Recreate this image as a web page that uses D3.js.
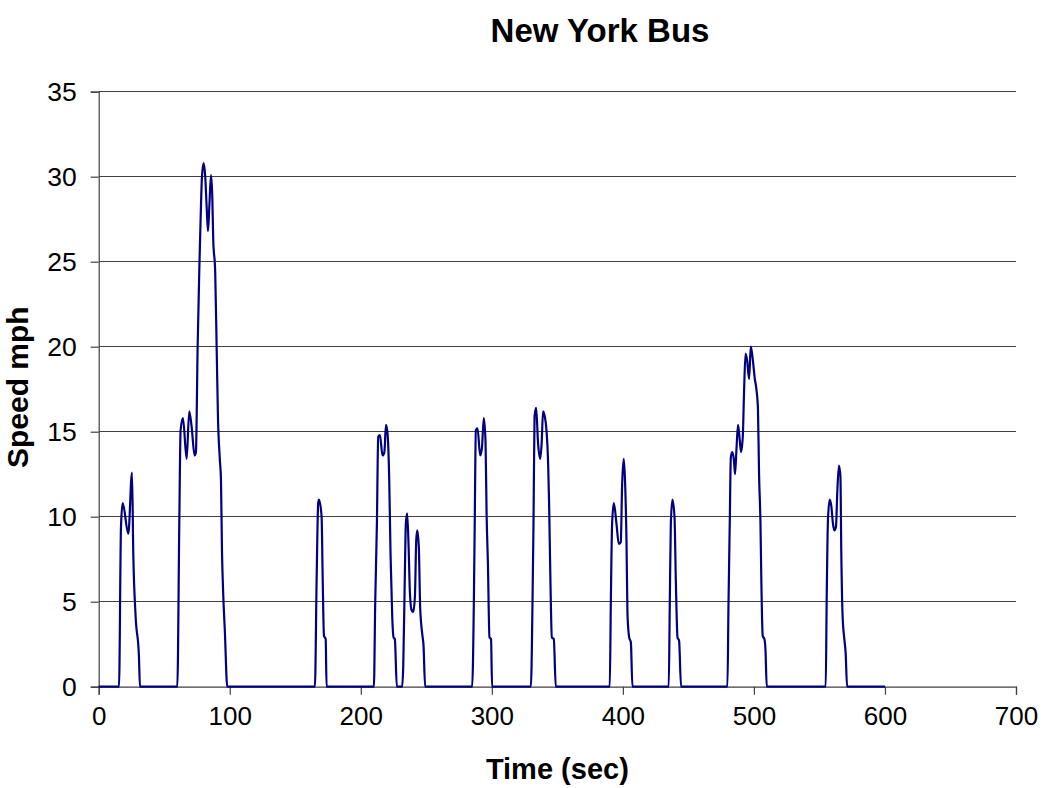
<!DOCTYPE html>
<html>
<head>
<meta charset="utf-8">
<script src="https://cdn.jsdelivr.net/npm/d3@7"></script>
<style>
  html, body { margin: 0; padding: 0; background: #fff; }
  svg { display: block; font-family: "Liberation Sans", Arial, sans-serif; }
</style>
</head>
<body>
<svg id="chart" width="1043" height="788"></svg>
<script>
// ---- Data ----
const chartTitle = "New York Bus";
const xAxisTitle = "Time (sec)";
const yAxisTitle = "Speed mph";

const timeSec = [
  0, 15.5, 17.0, 18.3, 22.6, 25.4, 26.4, 28.2, 30.7, 31.5,
  60, 61.5, 62.5, 64.3, 67.1, 69.1, 70.9, 73.2, 74.2, 75.5, 76.7, 77.8, 78.8, 80.1, 81.3,
  82.4, 83.4, 84.4, 85.7, 86.7, 87.4, 88.9, 90, 91, 92.5, 93.3, 94.1, 95, 96.3, 98.1,
  165, 166.3, 167.5, 168.1, 170.1, 170.9, 171.9, 173.2, 173.9,
  210, 211, 212.3, 213.3, 214.6, 216.6, 218, 219.2, 220.4, 221.7, 222.7, 224, 225, 226, 227.5,
  231.6, 232.4, 233.6, 234.4, 235.4, 236.5, 237.5, 238.8, 240, 241.3, 242.3, 243.1, 244.3,
  245.3, 246.9, 247.9, 249.1,
  285, 286.3, 287, 287.8, 289.1, 291.1, 292.4, 293.9, 295.2, 296, 297, 298.2, 299.4, 300.2,
  329.8, 331.1, 331.8, 332.6, 333.8, 335.3, 336.9, 338, 339.1, 340.4, 341.7, 342.9, 343.7,
  344.7, 345.8, 347.3, 348.8,
  390, 390.8, 391.8, 393.1, 395.1, 396.9, 398.4, 399.4, 400.7, 401.7, 402.8, 403.5, 404.8, 406.1, 407.3,
  435, 435.8, 436.6, 437.8, 439.4, 440.4, 441.7, 442.9, 444.4,
  479.8, 480.6, 481.6, 482.4, 483.4, 484.8, 485.6, 486.7, 487.9, 489.2, 490.2, 491.5, 492.5,
  493.6, 494.8, 496.3, 497.6, 498.9, 500.7, 501.9, 503.1, 503.9, 505, 505.7, 506.7, 508, 508.8, 509.8,
  554.8, 555.5, 556.5, 557.8, 559.1, 560.3, 561.4, 562.6, 563.7, 564.9, 566, 566.7, 567.7, 569, 570, 571.1,
  600
];
const speedMph = [
  0, 0, 9.4, 10.8, 9.0, 12.6, 7.8, 4.1, 1.8, 0,
  0, 9.6, 15.1, 15.8, 13.4, 16.2, 15.3, 13.6, 13.8, 20, 24.3, 27.6, 30, 30.8, 30.0,
  28.2, 26.8, 28.2, 30.1, 28.8, 26.3, 24.4, 20, 15.9, 13.3, 12.2, 7.9, 5.5, 3.2, 0,
  0, 6.3, 10.8, 11.0, 10.0, 6.5, 3.0, 2.8, 0,
  0, 4.9, 9.6, 14.7, 14.8, 13.6, 13.8, 15.4, 14.9, 12.2, 7.8, 4.1, 2.9, 2.8, 0,
  0, 1.2, 6.5, 9.6, 10.2, 8.2, 5.5, 4.5, 4.4, 5.3, 8.6, 9.2, 8.2,
  4.7, 3.1, 2.4, 0,
  0, 5.1, 10, 15.1, 15.2, 13.6, 14.0, 15.8, 14.4, 10.2, 7.3, 2.9, 2.8, 0,
  0, 5.3, 9.6, 15.9, 16.4, 14.3, 13.4, 14.3, 16.2, 15.9, 15.1, 13.3, 10.8,
  6.3, 2.9, 2.8, 0,
  0, 4.9, 9.6, 10.8, 9.6, 8.4, 8.5, 11.8, 13.4, 12.0, 8.4, 4.3, 2.9, 2.6, 0,
  0, 4.9, 9.6, 11.0, 10.0, 6.3, 2.9, 2.7, 0,
  0, 4.9, 9.8, 13.5, 13.8, 13.3, 12.5, 14.0, 15.4, 14.5, 13.8, 14.7, 17.4,
  19.6, 19.2, 18.1, 20.0, 19.4, 18.1, 17.5, 16.3, 12.6, 9.6, 6.1, 3.0, 2.8, 2.2, 0,
  0, 4.9, 9.8, 11.0, 10.6, 9.6, 9.2, 9.4, 11.6, 13.0, 12.4, 7.8, 4.1, 2.8, 2.0, 0,
  0
];
const xTicks = [0, 100, 200, 300, 400, 500, 600, 700];
const yTicks = [0, 5, 10, 15, 20, 25, 30, 35];

// ---- Layout ----
const plot = { left: 98.7, right: 1016, top: 91.7, bottom: 686.7 };
const svg = d3.select("#chart");
svg.append("rect").attr("width", 1043).attr("height", 788).attr("fill", "#fff");

const x = d3.scaleLinear().domain([0, 700]).range([plot.left, plot.right]);
const y = d3.scaleLinear().domain([0, 35]).range([plot.bottom, plot.top]);

// gridlines
svg.append("g")
  .selectAll("line")
  .data(yTicks.filter(d => d > 0))
  .join("line")
  .attr("x1", plot.left).attr("x2", plot.right)
  .attr("y1", d => y(d)).attr("y2", d => y(d))
  .attr("stroke", "#404040").attr("stroke-width", 1.2)
  .attr("shape-rendering", "crispEdges");

// y axis
const yAxis = d3.axisLeft(y).tickValues(yTicks).tickSize(8).tickPadding(14).tickFormat(d3.format("d"));
const gy = svg.append("g").attr("transform", `translate(${plot.left},0)`).call(yAxis);
gy.select(".domain").attr("stroke", "#404040").attr("stroke-width", 1.2);
gy.selectAll(".tick line").attr("stroke", "#404040").attr("stroke-width", 1.2);
gy.selectAll(".tick text").attr("font-size", 26.5).attr("fill", "#000")
  .attr("font-family", "Liberation Sans, Arial, sans-serif");

// x axis
const xAxis = d3.axisBottom(x).tickValues(xTicks).tickSize(8).tickPadding(12).tickFormat(d3.format("d"));
const gx = svg.append("g").attr("transform", `translate(0,${plot.bottom})`).call(xAxis);
gx.select(".domain").attr("stroke", "#404040").attr("stroke-width", 1.2);
gx.selectAll(".tick line").attr("stroke", "#404040").attr("stroke-width", 1.2);
gx.selectAll(".tick text").attr("font-size", 26).attr("fill", "#000")
  .attr("font-family", "Liberation Sans, Arial, sans-serif");

// data line
const pts = timeSec.map((t, i) => [t, speedMph[i]]);
const line = d3.line().x(d => x(d[0])).y(d => y(d[1])).curve(d3.curveMonotoneX);
svg.append("path")
  .datum(pts)
  .attr("d", line)
  .attr("fill", "none")
  .attr("stroke", "#000080")
  .attr("stroke-width", 2.2)
  .attr("stroke-linejoin", "round");

// titles
svg.append("text")
  .attr("x", 600).attr("y", 42)
  .attr("text-anchor", "middle")
  .attr("font-size", 33).attr("font-weight", "bold")
  .text(chartTitle);

svg.append("text")
  .attr("x", (plot.left + plot.right) / 2).attr("y", 779)
  .attr("text-anchor", "middle")
  .attr("font-size", 29).attr("font-weight", "bold")
  .text(xAxisTitle);

svg.append("text")
  .attr("transform", `translate(28, ${(plot.top + plot.bottom) / 2 - 2}) rotate(-90)`)
  .attr("text-anchor", "middle")
  .attr("font-size", 30).attr("font-weight", "bold")
  .text(yAxisTitle);
</script>
</body>
</html>
